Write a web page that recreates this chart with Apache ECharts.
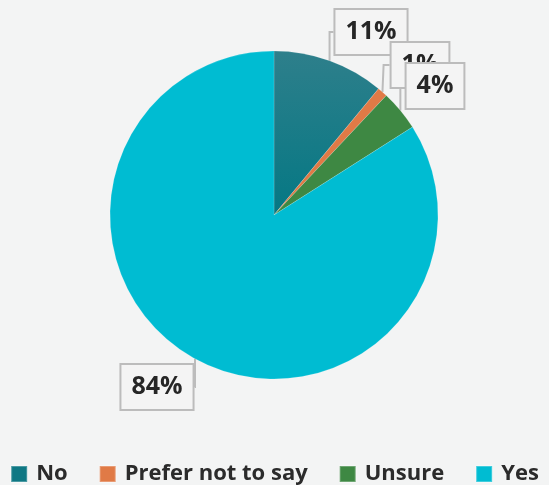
<!DOCTYPE html>
<html>
<head>
<meta charset="utf-8">
<script src="https://cdn.jsdelivr.net/npm/echarts@6/dist/echarts.min.js"></script>
<style>
  html, body { margin: 0; padding: 0; background: #f3f4f4; }
  #chart { width: 549px; height: 485px; }
</style>
</head>
<body>
<div id="chart"></div>
<script>
// Survey answers, in percent
const categories = ['No', 'Prefer not to say', 'Unsure', 'Yes'];
const values = [11, 1, 4, 84];
const colors = ['#0f7884', '#e07a46', '#3e8843', '#00bcd2'];
// Where each value box sits, centre point in pixels
const labelSpots = [[371, 32], [420, 65], [435, 86], [157, 387]];

const chart = echarts.init(document.getElementById('chart'));

const data = categories.map((name, i) => ({
  name,
  value: values[i],
  itemStyle: {
    color: i === 0
      ? new echarts.graphic.LinearGradient(0, 0, 0, 1, [
          { offset: 0, color: '#2e7f8b' },
          { offset: 1, color: '#047884' }
        ])
      : colors[i]
  }
}));

chart.setOption({
  backgroundColor: '#f3f4f4',
  animation: false,
  color: colors,
  legend: {
    top: 458,
    left: 'center',
    itemWidth: 16,
    itemHeight: 16,
    itemGap: 31,
    icon: 'rect',
    textStyle: {
      fontFamily: 'Open Sans',
      fontWeight: 'bold',
      fontSize: 22,
      color: '#2b2b2b',
      padding: [0, 0, 0, 4]
    },
    data: categories.map((name, i) => ({ name, itemStyle: { color: colors[i] } }))
  },
  series: [{
    type: 'pie',
    center: [274, 215],
    radius: [0, 164],
    startAngle: 90,
    clockwise: true,
    data,
    itemStyle: { borderColor: 'rgba(255,255,255,0.25)', borderWidth: 0.6 },
    label: {
      show: true,
      formatter: p => p.value + '%',
      fontFamily: 'Open Sans',
      fontWeight: 'bold',
      fontSize: 25,
      lineHeight: 27,
      color: '#262626',
      backgroundColor: '#f4f4f4',
      borderColor: '#bcbcbc',
      borderWidth: 2,
      padding: [9, 10, 8, 10]
    },
    labelLine: {
      show: true,
      length: 8,
      length2: 6,
      lineStyle: { color: '#bcbcbc', width: 2 }
    },
    labelLayout: p => {
      const s = labelSpots[p.dataIndex];
      return { x: s[0], y: s[1], align: 'center', verticalAlign: 'middle' };
    },
    emphasis: { disabled: true }
  }]
});
</script>
</body>
</html>
